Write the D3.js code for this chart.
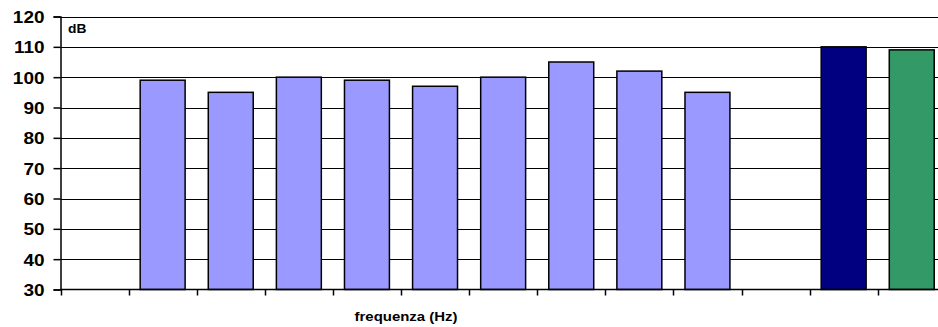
<!DOCTYPE html>
<html><head><meta charset="utf-8">
<script src="https://cdn.jsdelivr.net/npm/d3@7"></script>
<style>body{margin:0;background:#fff}svg{display:block}text{font-family:"Liberation Sans",Arial,sans-serif;font-weight:bold;fill:#000}</style>
</head><body><svg id="c" width="938" height="327"></svg>
<script>
const categories = ["c0","c1","c2","c3","c4","c5","c6","c7","c8","c9","c10","c11","c12"];
const values = [null, 99, 95, 100, 99, 97, 100, 105, 102, 95, null, 110, 109];
const barColors = [null, "#9999FF","#9999FF","#9999FF","#9999FF","#9999FF","#9999FF","#9999FF","#9999FF","#9999FF", null, "#000080", "#339966"];
const yTicks = [30,40,50,60,70,80,90,100,110,120];
const yTitle = "dB";
const xTitle = "frequenza (Hz)";

const svg = d3.select("#c");
const L = 60.5, T = 16.5, B = 289.5, R = 60.5 + 13*68.1;
const x = d3.scaleBand().domain(categories).range([L, R]).paddingInner(0.34).paddingOuter(0.17);
const y = d3.scaleLinear().domain([30,120]).range([B, T]);
const sx = 1.15;

// gridlines
svg.append("g").selectAll("line").data(yTicks.filter(d=>d>30)).join("line")
  .attr("x1", L).attr("x2", R).attr("y1", d=>Math.round(y(d))+0.5).attr("y2", d=>Math.round(y(d))+0.5)
  .attr("stroke", "#000").attr("stroke-width", 1);

// bars
svg.append("g").selectAll("rect").data(categories.map((c,i)=>({c, v: values[i], col: barColors[i]})).filter(d=>d.v!=null)).join("rect")
  .attr("x", d=>x(d.c)).attr("width", x.bandwidth())
  .attr("y", d=>y(d.v)).attr("height", d=>B - y(d.v))
  .attr("fill", d=>d.col).attr("stroke", "#000").attr("stroke-width", 1.5);

// y axis
const ya = svg.append("g").attr("transform", `translate(${L},0)`)
  .call(d3.axisLeft(y).tickValues(yTicks).tickSize(7).tickPadding(0).tickFormat(d3.format("d")));
ya.select(".domain").attr("stroke", "#000").attr("stroke-width", 1.5);
ya.selectAll(".tick line").attr("stroke", "#000").attr("stroke-width", 1.5);
ya.selectAll(".tick text").text(null);
ya.selectAll(".tick").each(function(d){
  d3.select(this).append("text").attr("font-size", 16.5).attr("text-anchor", "end")
    .attr("dy", "0.36em").attr("transform", `translate(-16,0) scale(${sx},1)`)
    .style("font-family", '"Liberation Sans",Arial,sans-serif').style("font-weight","bold").attr("fill","#000")
    .text(d);
});

// x axis
const boundaries = d3.range(categories.length+1).map(i => L + i*x.step());
const xa = svg.append("g");
xa.append("line").attr("x1", L).attr("x2", R).attr("y1", B).attr("y2", B).attr("stroke", "#000").attr("stroke-width", 1.5);
xa.selectAll("line.t").data(boundaries).join("line").attr("class","t")
  .attr("x1", d=>Math.round(d)+0.5).attr("x2", d=>Math.round(d)+0.5).attr("y1", B).attr("y2", B+6)
  .attr("stroke", "#000").attr("stroke-width", 1.5);

// titles
svg.append("text").attr("font-size", 12).attr("transform", `translate(68,32.5) scale(${sx},1)`).text(yTitle);
svg.append("text").attr("font-size", 13).attr("text-anchor", "middle")
  .attr("transform", `translate(406,320.5) scale(${sx},1)`).text(xTitle);
</script></body></html>
